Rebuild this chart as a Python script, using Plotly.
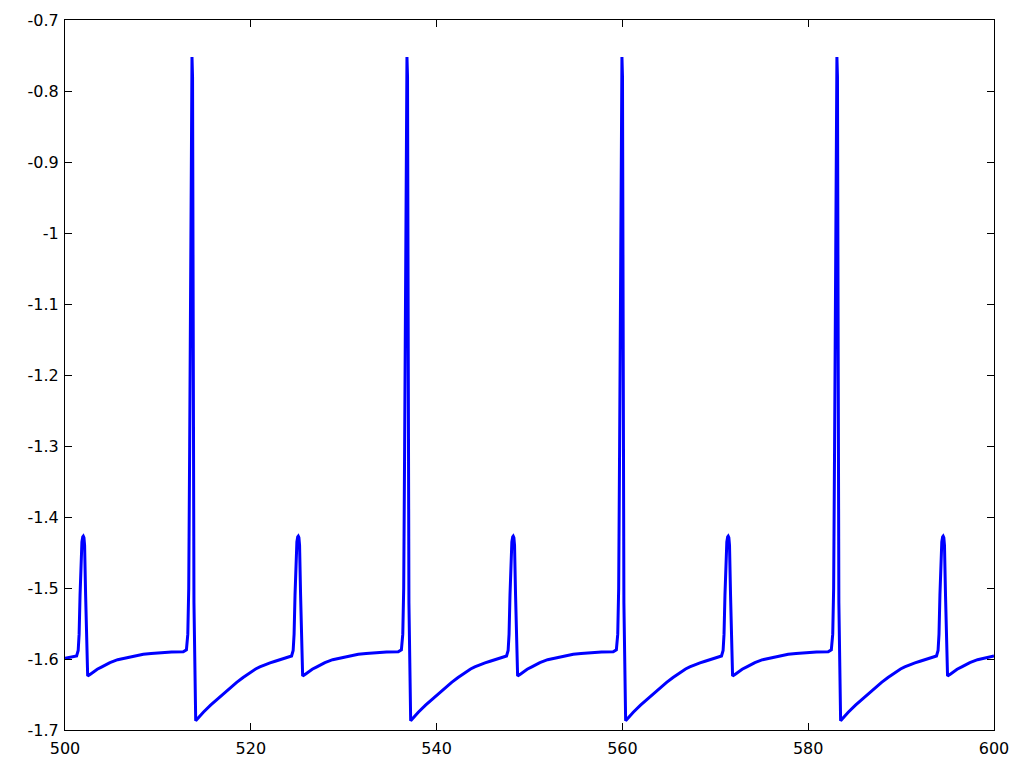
import plotly.graph_objects as go

# Time (x) and value (y), cycle by cycle
time = [
    500.00, 500.60,
    # small spike 1 + recovery
    501.25, 501.42, 501.52, 501.62, 501.72, 501.82, 501.91, 501.97, 502.04, 502.11, 502.22, 502.33, 502.44,
    502.77, 503.05, 503.47, 503.97, 504.84, 505.67, 506.64, 507.47, 508.43, 509.27, 510.23, 511.47, 512.73,
    # big spike 1 + recovery
    513.07, 513.22, 513.32, 513.42, 513.52, 513.61, 513.67, 513.73, 513.79, 513.88,
    514.07, 514.47, 514.89, 515.67, 516.68, 517.67, 518.48, 519.17, 519.62, 520.10, 520.52, 520.97, 521.52, 522.07, 522.62, 523.17, 523.67, 524.22,
    # small spike 2 + recovery
    524.39, 524.56, 524.66, 524.76, 524.86, 524.96, 525.05, 525.11, 525.18, 525.25, 525.36, 525.47, 525.58,
    525.91, 526.19, 526.61, 527.11, 527.98, 528.81, 529.78, 530.61, 531.57, 532.41, 533.37, 534.61, 535.87,
    # big spike 2 + recovery
    536.21, 536.36, 536.46, 536.56, 536.66, 536.75, 536.81, 536.87, 536.93, 537.02,
    537.21, 537.61, 538.03, 538.81, 539.82, 540.81, 541.62, 542.31, 542.76, 543.24, 543.66, 544.11, 544.66, 545.21, 545.76, 546.31, 546.81, 547.36,
    # small spike 3 + recovery
    547.53, 547.70, 547.80, 547.90, 548.00, 548.10, 548.19, 548.25, 548.32, 548.39, 548.50, 548.61, 548.72,
    549.05, 549.33, 549.75, 550.25, 551.12, 551.95, 552.92, 553.75, 554.71, 555.55, 556.51, 557.75, 559.01,
    # big spike 3 + recovery
    559.35, 559.50, 559.60, 559.70, 559.80, 559.89, 559.95, 560.01, 560.07, 560.16,
    560.35, 560.75, 561.17, 561.95, 562.96, 563.95, 564.76, 565.45, 565.90, 566.38, 566.80, 567.25, 567.80, 568.35, 568.90, 569.45, 569.95, 570.50,
    # small spike 4 + recovery
    570.67, 570.84, 570.94, 571.04, 571.14, 571.24, 571.33, 571.39, 571.46, 571.53, 571.64, 571.75, 571.86,
    572.19, 572.47, 572.89, 573.39, 574.26, 575.09, 576.06, 576.89, 577.85, 578.69, 579.65, 580.89, 582.15,
    # big spike 4 + recovery
    582.49, 582.64, 582.74, 582.84, 582.94, 583.03, 583.09, 583.15, 583.21, 583.30,
    583.49, 583.89, 584.31, 585.09, 586.10, 587.09, 587.90, 588.59, 589.04, 589.52, 589.94, 590.39, 590.94, 591.49, 592.04, 592.59, 593.09, 593.64,
    # small spike 5 + recovery
    593.81, 593.98, 594.08, 594.18, 594.28, 594.38, 594.47, 594.53, 594.60, 594.67, 594.78, 594.89, 595.00,
    595.33, 595.61, 596.03, 596.53, 597.40, 598.23, 599.20, 600.00,
]

value = [
    -1.599, -1.597,
    # small spike 1 + recovery
    -1.5958, -1.588, -1.565, -1.51, -1.46, -1.435, -1.428, -1.427, -1.429, -1.44, -1.51, -1.58, -1.624,
    -1.621, -1.618, -1.6145, -1.611, -1.605, -1.601, -1.598, -1.5955, -1.5934, -1.5922, -1.5912, -1.5903, -1.5897,
    # big spike 1 + recovery
    -1.587, -1.565, -1.50, -1.30, -1.00, -0.78, -0.752, -0.78, -1.00, -1.52,
    -1.687, -1.681, -1.675, -1.665, -1.653, -1.642, -1.633, -1.626, -1.6218, -1.6175, -1.6140, -1.611, -1.6080, -1.6055, -1.6032, -1.601, -1.5992, -1.5975,
    # small spike 2 + recovery
    -1.5958, -1.588, -1.565, -1.51, -1.46, -1.435, -1.428, -1.427, -1.429, -1.44, -1.51, -1.58, -1.624,
    -1.621, -1.618, -1.6145, -1.611, -1.605, -1.601, -1.598, -1.5955, -1.5934, -1.5922, -1.5912, -1.5903, -1.5897,
    # big spike 2 + recovery
    -1.587, -1.565, -1.50, -1.30, -1.00, -0.78, -0.752, -0.78, -1.00, -1.52,
    -1.687, -1.681, -1.675, -1.665, -1.653, -1.642, -1.633, -1.626, -1.6218, -1.6175, -1.6140, -1.611, -1.6080, -1.6055, -1.6032, -1.601, -1.5992, -1.5975,
    # small spike 3 + recovery
    -1.5958, -1.588, -1.565, -1.51, -1.46, -1.435, -1.428, -1.427, -1.429, -1.44, -1.51, -1.58, -1.624,
    -1.621, -1.618, -1.6145, -1.611, -1.605, -1.601, -1.598, -1.5955, -1.5934, -1.5922, -1.5912, -1.5903, -1.5897,
    # big spike 3 + recovery
    -1.587, -1.565, -1.50, -1.30, -1.00, -0.78, -0.752, -0.78, -1.00, -1.52,
    -1.687, -1.681, -1.675, -1.665, -1.653, -1.642, -1.633, -1.626, -1.6218, -1.6175, -1.6140, -1.611, -1.6080, -1.6055, -1.6032, -1.601, -1.5992, -1.5975,
    # small spike 4 + recovery
    -1.5958, -1.588, -1.565, -1.51, -1.46, -1.435, -1.428, -1.427, -1.429, -1.44, -1.51, -1.58, -1.624,
    -1.621, -1.618, -1.6145, -1.611, -1.605, -1.601, -1.598, -1.5955, -1.5934, -1.5922, -1.5912, -1.5903, -1.5897,
    # big spike 4 + recovery
    -1.587, -1.565, -1.50, -1.30, -1.00, -0.78, -0.752, -0.78, -1.00, -1.52,
    -1.687, -1.681, -1.675, -1.665, -1.653, -1.642, -1.633, -1.626, -1.6218, -1.6175, -1.6140, -1.611, -1.6080, -1.6055, -1.6032, -1.601, -1.5992, -1.5975,
    # small spike 5 + recovery
    -1.5958, -1.588, -1.565, -1.51, -1.46, -1.435, -1.428, -1.427, -1.429, -1.44, -1.51, -1.58, -1.624,
    -1.621, -1.618, -1.6145, -1.611, -1.605, -1.601, -1.598, -1.5957,
]

x_ticks = [500, 520, 540, 560, 580, 600]
x_ticktext = ["500", "520", "540", "560", "580", "600"]
y_ticks = [-1.7, -1.6, -1.5, -1.4, -1.3, -1.2, -1.1, -1.0, -0.9, -0.8, -0.7]
y_ticktext = ["-1.7", "-1.6", "-1.5", "-1.4", "-1.3", "-1.2", "-1.1", "-1", "-0.9", "-0.8", "-0.7"]

fig = go.Figure()
fig.add_trace(go.Scatter(
    x=time, y=value, mode="lines",
    line=dict(color="#0000ff", width=3),
    showlegend=False, hoverinfo="skip",
))

axis_common = dict(
    showgrid=False, zeroline=False, automargin=False,
    showline=True, linecolor="black", linewidth=1, mirror="ticks",
    ticks="inside", ticklen=7, tickwidth=1, tickcolor="black",
    tickfont=dict(family="DejaVu Sans", size=16, color="black"),
)

fig.update_layout(
    width=1024, height=768,
    margin=dict(l=65, r=30, t=20, b=38),
    paper_bgcolor="white", plot_bgcolor="white",
    xaxis=dict(range=[500, 600], tickmode="array", tickvals=x_ticks,
               ticktext=x_ticktext, ticklabelstandoff=4, **axis_common),
    yaxis=dict(range=[-1.7, -0.7], tickmode="array", tickvals=y_ticks,
               ticktext=y_ticktext, ticklabelstandoff=2, **axis_common),
)

fig.write_html("out.html")
